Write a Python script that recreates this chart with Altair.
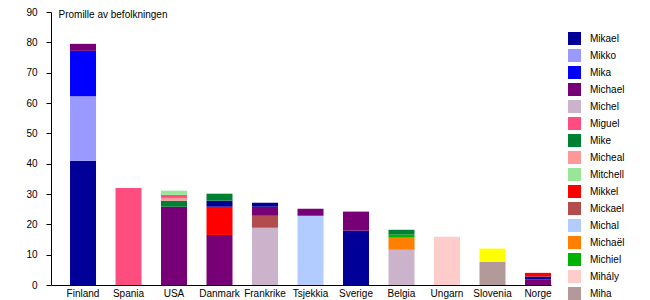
import altair as alt
import pandas as pd

countries = ["Finland", "Spania", "USA", "Danmark", "Frankrike", "Tsjekkia",
             "Sverige", "Belgia", "Ungarn", "Slovenia", "Norge"]

names = ["Mikael", "Mikko", "Mika", "Michael", "Michel", "Miguel", "Mike",
         "Micheal", "Mitchell", "Mikkel", "Mickael", "Michal", "Michaël",
         "Michiel", "Mihály", "Miha", "Mihael"]
colors = ["#000099", "#9999ff", "#0000ff", "#770077", "#ccb3cc", "#ff4d80",
          "#008033", "#ff9999", "#99e699", "#ff0000", "#b34d4d", "#b3ccff",
          "#ff8000", "#00b300", "#ffcccc", "#b39999", "#ffff00"]
legend_names = names[:16]

# segments, bottom to top within each country
seg_country = ["Finland", "Finland", "Finland", "Finland",
               "Spania",
               "USA", "USA", "USA", "USA", "USA",
               "Danmark", "Danmark", "Danmark", "Danmark",
               "Frankrike", "Frankrike", "Frankrike", "Frankrike",
               "Tsjekkia", "Tsjekkia",
               "Sverige", "Sverige",
               "Belgia", "Belgia", "Belgia", "Belgia",
               "Ungarn",
               "Slovenia", "Slovenia",
               "Norge", "Norge", "Norge"]
seg_name = ["Mikael", "Mikko", "Mika", "Michael",
            "Miguel",
            "Michael", "Mike", "Micheal", "Miguel", "Mitchell",
            "Michael", "Mikkel", "Mikael", "Mike",
            "Michel", "Mickael", "Michael", "Mikael",
            "Michal", "Michael",
            "Mikael", "Michael",
            "Michel", "Michaël", "Michiel", "Mike",
            "Mihály",
            "Miha", "Mihael",
            "Michael", "Mikael", "Mikkel"]
seg_value = [41.0, 21.2, 15.0, 2.3,
             32.0,
             25.8, 2.0, 0.9, 1.0, 1.4,
             16.5, 9.3, 2.0, 2.3,
             18.9, 3.9, 3.0, 1.3,
             22.8, 2.3,
             17.9, 6.3,
             11.6, 4.0, 1.0, 1.6,
             15.9,
             7.7, 4.3,
             1.8, 1.0, 1.2]

rank = []
prev = None
r = 0
for c in seg_country:
    r = r + 1 if c == prev else 0
    prev = c
    rank.append(r)

df = pd.DataFrame({"land": seg_country, "navn": seg_name,
                   "verdi": seg_value, "rank": rank})

font = "Liberation Sans"

chart = alt.Chart(df).mark_bar().encode(
    x=alt.X("land:N", sort=countries,
            scale=alt.Scale(paddingInner=0.4286, paddingOuter=0.209, align=1),
            axis=alt.Axis(title=None, ticks=False, labelAngle=0, labelPadding=3,
                          labelFontSize=10, labelFont=font, labelColor="#000",
                          domainColor="#000", labelOverlap=False)),
    y=alt.Y("verdi:Q", stack="zero",
            scale=alt.Scale(domain=[0, 90], nice=False),
            axis=alt.Axis(title="Promille av befolkningen", titleAngle=0,
                          titleX=7, titleY=2, titleAlign="left",
                          titleBaseline="middle", titleFontSize=10,
                          titleFontWeight="normal", titleFont=font,
                          titleColor="#000",
                          values=[0, 10, 20, 30, 40, 50, 60, 70, 80, 90],
                          grid=False, tickSize=5, labelPadding=9,
                          labelFontSize=10, labelFont=font, labelColor="#000",
                          domainColor="#000", tickColor="#000")),
    color=alt.Color("navn:N",
                    scale=alt.Scale(domain=names, range=colors),
                    legend=alt.Legend(title=None, values=legend_names,
                                      orient="none", legendX=517, legendY=20,
                                      symbolType="square", symbolSize=169,
                                      symbolStrokeWidth=0, symbolOpacity=1,
                                      labelFontSize=10, labelFont=font,
                                      labelColor="#000", labelOffset=9,
                                      rowPadding=4, padding=0)),
    order=alt.Order("rank:Q", sort="ascending"),
).properties(
    width=500, height=273,
    background="white",
    autosize=alt.AutoSizeParams(type="none"),
    padding={"left": 51, "top": 12, "right": 99, "bottom": 15},
).configure_view(strokeWidth=0, stroke="transparent")

chart.save("out.html", embed_options={"renderer": "svg", "actions": False})
